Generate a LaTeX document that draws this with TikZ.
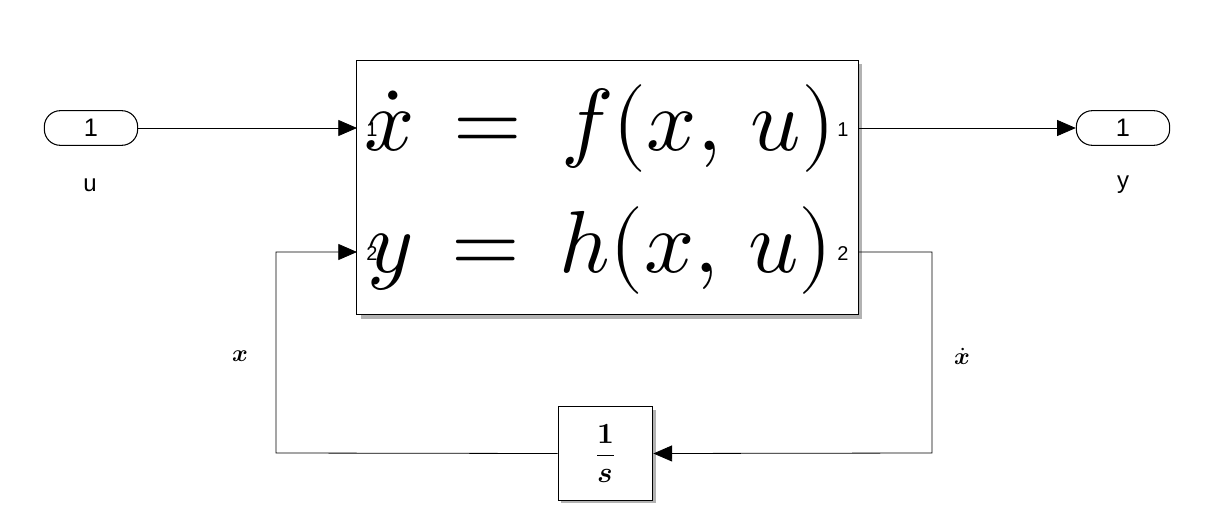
\documentclass[tikz,border=0pt]{standalone}
\usepackage{fontspec}
\setmainfont{Liberation Sans}
\usepackage{unicode-math}
\setmathfont{Latin Modern Math}
\usetikzlibrary{arrows.meta}
\begin{document}
\begin{tikzpicture}[x=0.75pt,y=-0.75pt,
  pill/.style={draw,thick,rounded corners=12pt,minimum width=70pt,minimum height=26pt,font=\fontsize{19}{22}\selectfont,inner sep=0pt},
  blk/.style={draw,thick,fill=white,inner sep=0pt},
  lbl/.style={font=\fontsize{18}{20}\selectfont},
  prt/.style={font=\fontsize{15}{17}\selectfont},
  ln/.style={line width=0.6pt},
  arr/.style={ln,-{Triangle[length=14pt,width=12pt]}}]
\useasboundingbox (0,0) rectangle (1228,525);
\node[pill] (in) at (91,128) {1};
\node[lbl] (ul) at (90,185) {u};
\node[pill] (out) at (1123,128) {1};
\node[lbl] (yl) at (1123,185) {y};
\fill[gray!60] (361,64) rectangle (862,319);
\node[blk,minimum width=376pt,minimum height=191pt] (m) at (607.5,187.5) {};
\node[font=\fontsize{66}{70}\selectfont,inner sep=0pt] (e1) at (600,128) {$\dot{x}\,=\,f(x,\,u)$};
\node[font=\fontsize{66}{70}\selectfont,inner sep=0pt] (e2) at (600,250) {$y\,=\,h(x,\,u)$};
\node[prt] at (372,130) {1};
\node[prt] at (372,254) {2};
\node[prt] at (843,130) {1};
\node[prt] at (843,254) {2};
\coordinate (mi1) at (357,128); \coordinate (mi2) at (357,252);
\coordinate (mo1) at (858,128); \coordinate (mo2) at (858,252);
\fill[gray!60] (561,410) rectangle (656,503);
\node[blk,minimum width=71pt,minimum height=70pt] (int) at (605.5,453.5) {};
\node[font=\fontsize{22}{24}\selectfont] at (605.5,453.5) {$\dfrac{\symbf{1}}{\symbfit{s}}$};
\draw[arr] (in.east) -- (mi1);
\draw[arr] (mo1) -- (out.west);
\draw[arr] (mo2) -- (932,252) -- (932,453) -- (int.east);
\draw[arr] (int.west) -- (276,453) -- (276,252) -- (mi2);
\node[font=\fontsize{18}{20}\selectfont] at (240,356) {$\symbfit{x}$};
\node[font=\fontsize{18}{20}\selectfont] at (962,356) {$\dot{\symbfit{x}}$};
\end{tikzpicture}
\end{document}
